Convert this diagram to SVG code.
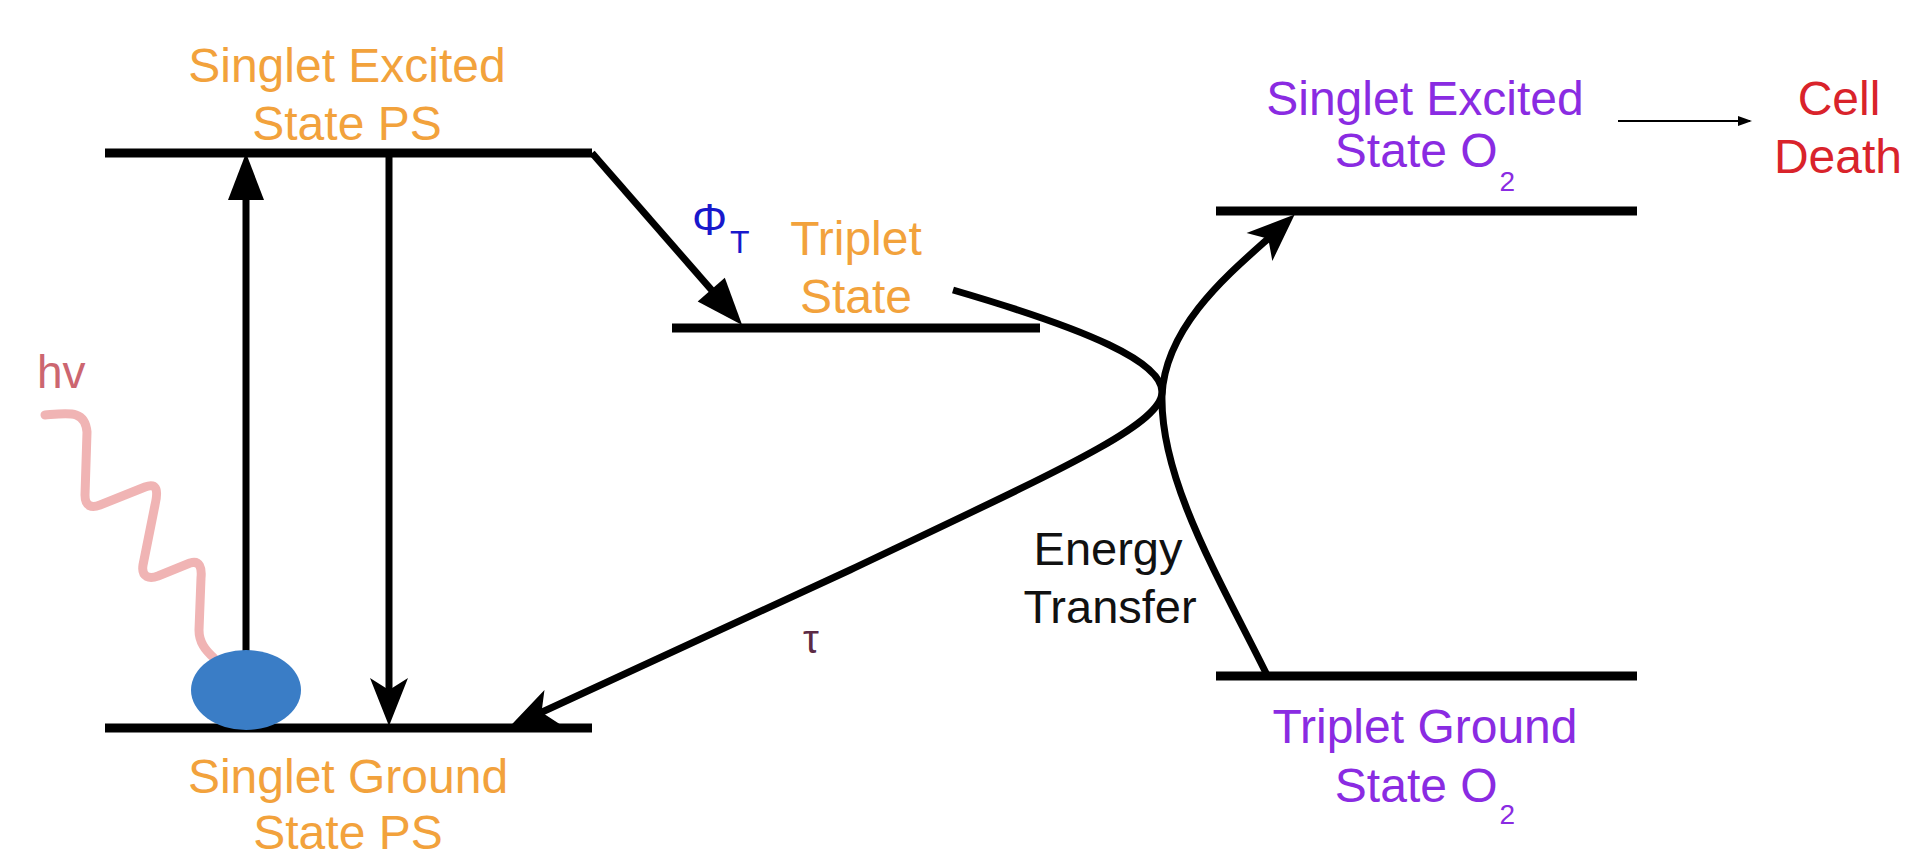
<svg xmlns="http://www.w3.org/2000/svg" width="1910" height="852" viewBox="0 0 1910 852">
<style>
text{font-family:"Liberation Sans",Arial,sans-serif;font-size:48px}
.lvl{stroke:#000;stroke-width:9;fill:none}
.orange{fill:#f2a23c;text-anchor:middle}
.purple{fill:#8a2be2;text-anchor:middle}
.red{fill:#d9232b;text-anchor:middle}
.blk{fill:#111;text-anchor:middle}
.con{stroke:#000;fill:none;stroke-width:7}
.sub{font-size:28px}
</style>
<defs>
<marker id="tri" markerUnits="userSpaceOnUse" orient="auto" overflow="visible" refX="0" refY="0" markerWidth="1" markerHeight="1"><path d="M20,0 L-27,-18 L-27,18 Z" fill="#000"/></marker>
<marker id="stealth" markerUnits="userSpaceOnUse" orient="auto" overflow="visible" refX="0" refY="0" markerWidth="1" markerHeight="1"><path d="M20,0 L-28,-19 L-16,0 L-28,19 Z" fill="#000"/></marker>
<marker id="small" markerUnits="userSpaceOnUse" orient="auto" overflow="visible" refX="0" refY="0" markerWidth="1" markerHeight="1"><path d="M2,0 L-12,-5 L-12,5 Z" fill="#000"/></marker>
</defs>
<rect width="1910" height="852" fill="#fff"/>

<g id="singlet-excited-ps">
<line class="lvl" x1="105" y1="153" x2="592" y2="153"/>
<text class="orange" x="347" y="82">Singlet Excited</text>
<text class="orange" x="347" y="140">State PS</text>
</g>

<g id="singlet-ground-ps">
<line class="lvl" x1="105" y1="728" x2="592" y2="728"/>
<text class="orange" x="348" y="793">Singlet Ground</text>
<text class="orange" x="348" y="849">State PS</text>
</g>

<g id="triplet-state">
<line class="lvl" x1="672" y1="328" x2="1040" y2="328"/>
<text class="orange" x="856" y="255">Triplet</text>
<text class="orange" x="856" y="313">State</text>
</g>

<g id="singlet-excited-o2">
<line class="lvl" x1="1216" y1="211" x2="1637" y2="211"/>
<text class="purple" x="1425" y="115">Singlet Excited</text>
<text class="purple" x="1425" y="167">State O<tspan class="sub" dx="2" dy="24">2</tspan></text>
</g>

<g id="triplet-ground-o2">
<line class="lvl" x1="1216" y1="676" x2="1637" y2="676"/>
<text class="purple" x="1425" y="743">Triplet Ground</text>
<text class="purple" x="1425" y="802">State O<tspan class="sub" dx="2" dy="22">2</tspan></text>
</g>

<g id="cell-death">
<text class="red" x="1839" y="115">Cell</text>
<text class="red" x="1838" y="173">Death</text>
</g>

<g id="photon">
<path d="M45,415 C70,413 85,410 87,432 L85,495 C85,507 92,508 100,505 L145,487 C158,482 158,492 155,505 L143,565 C141,578 150,579 158,576 L190,563 C200,560 202,568 201,578 L199,630 C199,642 205,650 214,658" fill="none" stroke="#f0b4b4" stroke-width="9" stroke-linecap="round" stroke-linejoin="round"/>
<text x="37" y="388" fill="#cc6670" style="font-size:46px">hv</text>
</g>

<g id="connectors">
<line class="con" x1="246" y1="660" x2="246" y2="173" marker-end="url(#tri)"/>
<line class="con" x1="389" y1="153" x2="389" y2="706" marker-end="url(#stealth)"/>
<line class="con" x1="592" y1="153" x2="729" y2="310" stroke-width="8" marker-end="url(#tri)"/>
<path class="con" d="M953,290 C1090,330 1162,362 1162,392 C1162,425 1060,470 850,570 L527,719" marker-end="url(#stealth)"/>
<path class="con" d="M1267,675 C1220,580 1160,480 1162,395 C1166,320 1240,265 1280,228" marker-end="url(#stealth)"/>
<line x1="1618" y1="121" x2="1750" y2="121" stroke="#000" stroke-width="2" marker-end="url(#small)"/>
</g>

<g id="molecule">
<ellipse cx="246" cy="690" rx="55" ry="40" fill="#3a7dc6"/>
</g>

<g id="labels">
<text x="692" y="235" fill="#1818cc" style="font-size:44px">Φ<tspan style="font-size:32px" dx="3" dy="18">T</tspan></text>
<text x="811" y="653" fill="#5c2a45" style="font-size:40px;text-anchor:middle">τ</text>
<text class="blk" x="1108" y="565" style="font-size:47px">Energy</text>
<text class="blk" x="1110" y="623" style="font-size:47px">Transfer</text>
</g>
</svg>
